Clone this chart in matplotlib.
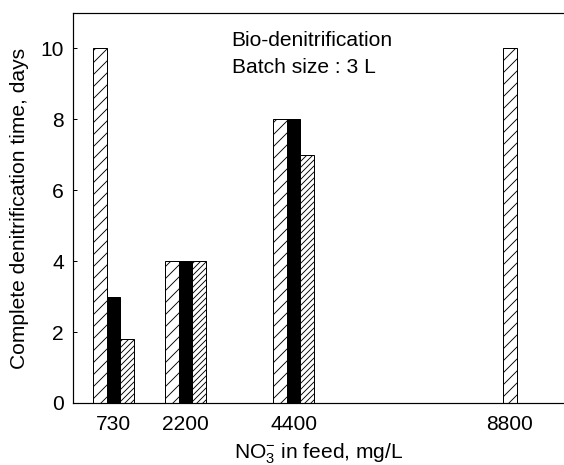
import matplotlib
matplotlib.use("Agg")
import matplotlib.pyplot as plt
import numpy as np

# ---- data ----
concentrations = [730, 2200, 4400, 8800]
tick_labels = ["730", "2200", "4400", "8800"]
series_a = [10, 4, 8, 10]        # sparse hatch
series_b = [3, 4, 8, None]       # solid black
series_c = [1.8, 4, 7, None]     # dense hatch

plt.rcParams['font.family'] = ['Liberation Sans', 'DejaVu Sans']
plt.rcParams['mathtext.fontset'] = 'custom'
plt.rcParams['mathtext.rm'] = 'Liberation Sans'
plt.rcParams['mathtext.it'] = 'Liberation Sans:italic'
plt.rcParams['hatch.linewidth'] = 0.9

DPI = 72
fig = plt.figure(figsize=(564 / DPI, 465 / DPI), dpi=DPI)
ax = fig.add_axes([73 / 564, 62 / 465, 491 / 564, 390 / 465])

width = 275
styles = [dict(facecolor='white', hatch='//'),
          dict(facecolor='black', hatch=None),
          dict(facecolor='white', hatch='////')]
all_series = [series_a, series_b, series_c]

for gi, x in enumerate(concentrations):
    present = [si for si, s in enumerate(all_series) if s[gi] is not None]
    n = len(present)
    for k, si in enumerate(present):
        off = (k - (n - 1) / 2) * width
        ax.bar(x + off, all_series[si][gi], width=width, edgecolor='black',
               linewidth=1.0, **styles[si])

ax.set_xlim(-92, 9900)
ax.set_ylim(0, 11)
ax.set_yticks([0, 2, 4, 6, 8, 10])
ax.set_xticks(concentrations)
ax.set_xticklabels(tick_labels)
ax.tick_params(axis='y', direction='in', length=4, width=1, pad=9, labelsize=21)
ax.tick_params(axis='x', length=0, pad=12, labelsize=21)
ax.spines['right'].set_visible(False)
for s in ['left', 'top', 'bottom']:
    ax.spines[s].set_linewidth(1.2)

ax.set_ylabel('Complete denitrification time, days', fontsize=21, labelpad=12)
ax.set_xlabel(r'NO$_3^{-}$ in feed, mg/L', fontsize=21, labelpad=8)

ax.text(0.323, 0.915, 'Bio-denitrification', transform=ax.transAxes,
        fontsize=21, va='baseline', ha='left')
ax.text(0.323, 0.846, 'Batch size : 3 L', transform=ax.transAxes,
        fontsize=21, va='baseline', ha='left')

fig.savefig('out.png', dpi=DPI)
